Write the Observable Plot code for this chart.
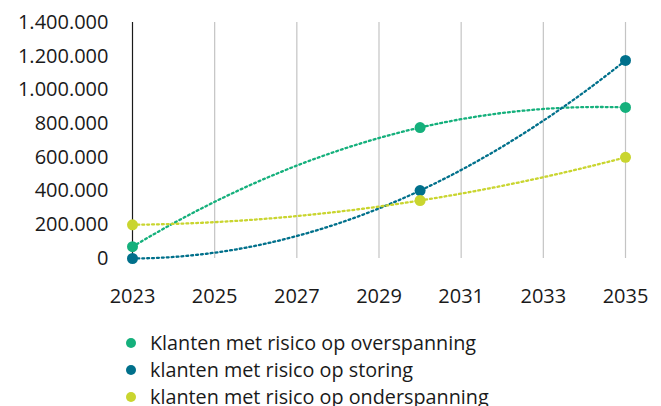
<!DOCTYPE html>
<html>
<head>
<meta charset="utf-8">
<script src="https://cdn.jsdelivr.net/npm/d3@7"></script>
<script src="https://cdn.jsdelivr.net/npm/@observablehq/plot@0.6"></script>
<style>
  html, body { margin: 0; padding: 0; background: #fff; }
  body { width: 661px; height: 406px; overflow: hidden; font-family: "Open Sans", sans-serif; color: #1a1a1a; }
  #legend { margin: 0; padding: 11px 0 0 126px; }
  .item { display: flex; align-items: center; height: 27px; font-size: 19.8px; }
  .dot { width: 10px; height: 10px; border-radius: 50%; margin-right: 14px; flex: none; }
</style>
</head>
<body>
<div id="chart"></div>
<div id="legend"></div>
<script>
const years = [2023, 2030, 2035];
const seriesNames = [
  "Klanten met risico op overspanning",
  "klanten met risico op storing",
  "klanten met risico op onderspanning"
];
const overspanning = [70000, 777000, 896000];
const storing = [0, 403000, 1175000];
const onderspanning = [200000, 344000, 600000];
const colors = ["#15b07c", "#00708b", "#c9d52f"];
const xTicks = [2023, 2025, 2027, 2029, 2031, 2033, 2035];
const yTicks = [0, 200000, 400000, 600000, 800000, 1000000, 1200000, 1400000];

const valuesBySeries = [overspanning, storing, onderspanning];
const points = [];
valuesBySeries.forEach((vals, s) => years.forEach((y, i) => points.push({series: seriesNames[s], year: y, value: vals[i]})));

// polynomial (order 2) trendline, least squares
function quadFit(xs, ys) {
  const x0 = xs[0];
  const S = [0,0,0,0,0], T = [0,0,0];
  xs.forEach((x, i) => {
    const t = x - x0;
    for (let k = 0; k < 5; k++) S[k] += Math.pow(t, k);
    for (let k = 0; k < 3; k++) T[k] += ys[i] * Math.pow(t, k);
  });
  const A = [[S[0],S[1],S[2],T[0]],[S[1],S[2],S[3],T[1]],[S[2],S[3],S[4],T[2]]];
  for (let i = 0; i < 3; i++) {
    for (let j = i + 1; j < 3; j++) {
      const f = A[j][i] / A[i][i];
      for (let k = i; k < 4; k++) A[j][k] -= f * A[i][k];
    }
  }
  const c = [0,0,0];
  for (let i = 2; i >= 0; i--) {
    let s = A[i][3];
    for (let k = i + 1; k < 3; k++) s -= A[i][k] * c[k];
    c[i] = s / A[i][i];
  }
  return x => c[0] + c[1] * (x - x0) + c[2] * (x - x0) ** 2;
}
const trend = [];
valuesBySeries.forEach((vals, s) => {
  const f = quadFit(years, vals);
  const xs = d3.range(years[0], years[years.length - 1] + 0.001, 0.1);
  xs.forEach(x => trend.push({series: seriesNames[s], year: x, value: f(x)}));
});

const nl = d3.formatLocale({decimal: ",", thousands: ".", grouping: [3], currency: ["€", ""]});
const fmt = nl.format(",");

const plot = Plot.plot({
  width: 661,
  height: 318,
  marginLeft: 132,
  marginRight: 36,
  marginTop: 22,
  marginBottom: 60,
  style: {fontFamily: "'Open Sans', sans-serif", fontSize: "20px", color: "#1a1a1a", background: "#fff"},
  x: {domain: [2023, 2035], ticks: xTicks, label: null},
  y: {domain: [0, 1400000], ticks: yTicks, label: null},
  color: {domain: seriesNames, range: colors},
  marks: [
    Plot.ruleX(xTicks.slice(1), {y1: 0, y2: 1400000, stroke: "#c4c4c4", strokeWidth: 1.2}),
    Plot.ruleX([2023], {y1: 0, y2: 1400000, stroke: "#1a1a1a", strokeWidth: 1.2}),
    Plot.axisY({ticks: yTicks, tickFormat: fmt, tickSize: 0, tickPadding: 24, fontSize: 20, label: null}),
    Plot.axisX({ticks: xTicks, tickFormat: d => String(d), tickSize: 0, tickPadding: 30, fontSize: 20, label: null}),
    Plot.line(trend, {x: "year", y: "value", z: "series", stroke: "series", strokeWidth: 2.3, strokeDasharray: "1.9,3"}),
    Plot.dot(points, {x: "year", y: "value", fill: "series", r: 5.5})
  ]
});
document.getElementById("chart").appendChild(plot);

const legend = document.getElementById("legend");
seriesNames.forEach((n, i) => {
  const d = document.createElement("div");
  d.className = "item";
  d.innerHTML = `<span class="dot" style="background:${colors[i]}"></span><span>${n}</span>`;
  legend.appendChild(d);
});
</script>
</body>
</html>
